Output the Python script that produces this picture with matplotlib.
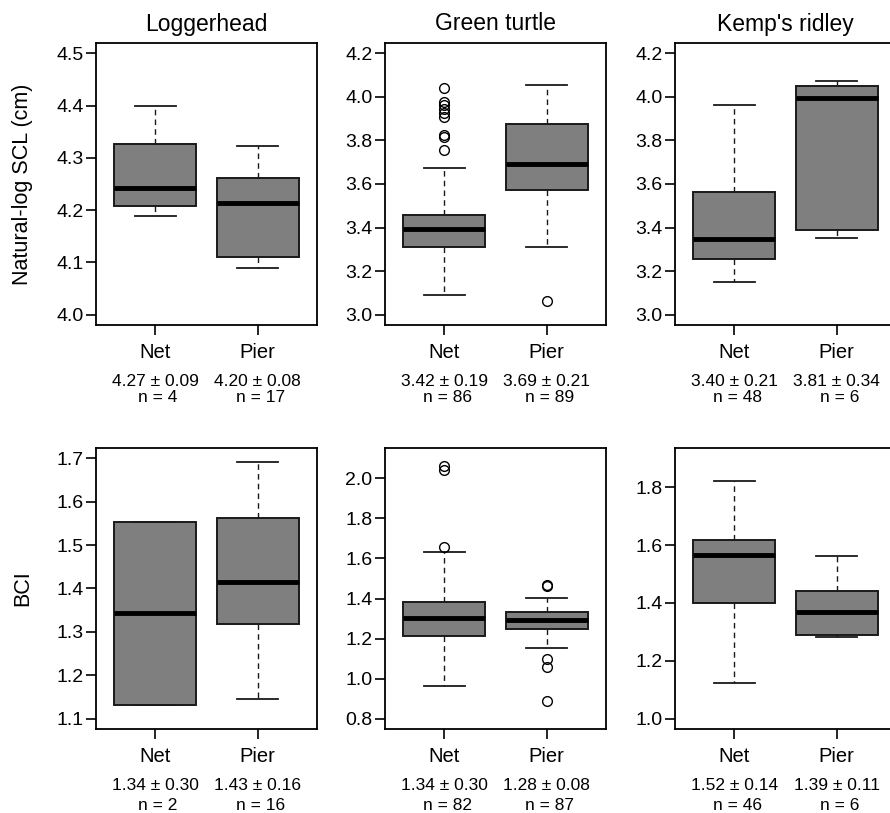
import numpy as np
import matplotlib.pyplot as plt

plt.rcParams["font.family"] = ["Liberation Sans", "DejaVu Sans"]

# ---------------------------------------------------------
# data (box stats per species, Net / Pier)
# ---------------------------------------------------------
species = ["Loggerhead", "Green turtle", "Kemp's ridley"]
groups = ["Net", "Pier"]

# natural-log SCL
scl_whislo = [[4.188, 4.090], [3.089, 3.312], [3.151, 3.354]]
scl_q1 = [[4.207, 4.110], [3.311, 3.572], [3.257, 3.389]]
scl_med = [[4.242, 4.213], [3.395, 3.692], [3.346, 3.995]]
scl_q3 = [[4.327, 4.262], [3.457, 3.874], [3.563, 4.051]]
scl_whishi = [[4.399, 4.322], [3.674, 4.054], [3.965, 4.072]]
scl_fliers = [
    [[], []],
    [[4.042, 3.975, 3.962, 3.944, 3.925, 3.910, 3.825, 3.818, 3.754], [3.062]],
    [[], []],
]
scl_ylim = [(4.0, 4.5), (3.0, 4.2), (3.0, 4.2)]
scl_ticks = [np.arange(4.0, 4.51, 0.1), np.arange(3.0, 4.21, 0.2), np.arange(3.0, 4.21, 0.2)]
scl_mean_sd = [["4.27 ± 0.09", "4.20 ± 0.08"], ["3.42 ± 0.19", "3.69 ± 0.21"],
               ["3.40 ± 0.21", "3.81 ± 0.34"]]
scl_n = [[4, 17], [86, 89], [48, 6]]

# BCI
bci_whislo = [[1.132, 1.145], [0.963, 1.152], [1.124, 1.283]]
bci_q1 = [[1.132, 1.318], [1.212, 1.249], [1.401, 1.288]]
bci_med = [[1.343, 1.416], [1.301, 1.295], [1.567, 1.368]]
bci_q3 = [[1.553, 1.562], [1.384, 1.331], [1.617, 1.441]]
bci_whishi = [[1.553, 1.692], [1.630, 1.402], [1.823, 1.562]]
bci_fliers = [
    [[], []],
    [[2.063, 2.040, 1.655], [1.466, 1.460, 1.098, 1.056, 0.888]],
    [[], []],
]
bci_ylim = [(1.1, 1.7), (0.8, 2.1), (1.0, 1.9)]
bci_ticks = [np.arange(1.1, 1.71, 0.1), np.arange(0.8, 2.01, 0.2), np.arange(1.0, 1.81, 0.2)]
bci_mean_sd = [["1.34 ± 0.30", "1.43 ± 0.16"], ["1.34 ± 0.30", "1.28 ± 0.08"],
               ["1.52 ± 0.14", "1.39 ± 0.11"]]
bci_n = [[2, 16], [82, 87], [46, 6]]


# ---------------------------------------------------------
# layout (pixel boxes of the panels)
# ---------------------------------------------------------
W, H = 890, 813
fig = plt.figure(figsize=(W / 100, H / 100), dpi=100)

col_left = [96, 385, 675]
panel_w = 221
rows = [(43, 325), (448, 729)]


def _axes(col, row):
    top, bot = rows[row]
    return fig.add_axes([col_left[col] / W, 1 - bot / H, panel_w / W, (bot - top) / H])


def _panel(ax, k, whislo, q1, med, q3, whishi, fliers, ylim, ticks, mean_sd, ns, n_off):
    stats = []
    for j in range(2):
        stats.append(dict(med=med[k][j], q1=q1[k][j], q3=q3[k][j],
                          whislo=whislo[k][j], whishi=whishi[k][j],
                          fliers=fliers[k][j]))
    ax.bxp(stats, positions=[1, 2], widths=0.8, capwidths=0.4,
           patch_artist=True, showfliers=True,
           boxprops=dict(facecolor="#7f7f7f", edgecolor="#1a1a1a", linewidth=1.4),
           medianprops=dict(color="black", linewidth=3.5, solid_capstyle="butt"),
           whiskerprops=dict(color="#1a1a1a", linewidth=1.0, linestyle=(0, (4, 3))),
           capprops=dict(color="#1a1a1a", linewidth=1.3),
           flierprops=dict(marker="o", markersize=7, markerfacecolor="none",
                           markeredgecolor="black", markeredgewidth=1.0))

    pad = (ylim[1] - ylim[0]) * 0.04
    ax.set_ylim(ylim[0] - pad, ylim[1] + pad)
    ax.set_xlim(0.42, 2.58)
    ax.set_yticks(ticks)
    ax.set_yticklabels([f"{t:.1f}" for t in ticks])
    ax.set_xticks([1, 2])
    ax.set_xticklabels(groups, fontsize=14.5)
    ax.tick_params(axis="y", length=7, width=1.2, pad=2, labelsize=14)
    ax.tick_params(axis="x", length=7, width=1.2, pad=6)
    for s in ax.spines.values():
        s.set_linewidth(1.3)

    for j in range(2):
        ax.annotate(mean_sd[k][j], xy=(j + 1, 0), xycoords=("data", "axes fraction"),
                    xytext=(0, -40.5), textcoords="offset points",
                    ha="center", va="center", fontsize=12.5)
        ax.annotate(f"n = {ns[k][j]}", xy=(j + 1, 0), xycoords=("data", "axes fraction"),
                    xytext=(2, -n_off), textcoords="offset points",
                    ha="center", va="center", fontsize=12.5)


for k in range(3):
    ax = _axes(k, 0)
    _panel(ax, k, scl_whislo, scl_q1, scl_med, scl_q3, scl_whishi, scl_fliers,
           scl_ylim[k], scl_ticks[k], scl_mean_sd, scl_n, 52)
    ax.set_title(species[k], fontsize=16.5, pad=9)
    if k == 0:
        ax.set_ylabel("Natural-log SCL (cm)", fontsize=15.5, va="center")
        ax.yaxis.set_label_coords(-73 / panel_w, 0.5)

    ax = _axes(k, 1)
    _panel(ax, k, bci_whislo, bci_q1, bci_med, bci_q3, bci_whishi, bci_fliers,
           bci_ylim[k], bci_ticks[k], bci_mean_sd, bci_n, 55)
    if k == 0:
        ax.set_ylabel("BCI", fontsize=15.5, va="center")
        ax.yaxis.set_label_coords(-73 / panel_w, 0.5)

fig.savefig("out.png", dpi=100)
